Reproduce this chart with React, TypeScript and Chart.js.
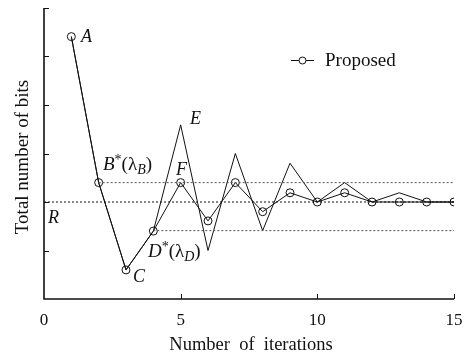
import React, { useEffect, useRef } from "react";
import { Chart, registerables } from "chart.js";

Chart.register(...registerables);

const iterations = [1, 2, 3, 4, 5, 6, 7, 8, 9, 10, 11, 12, 13, 14, 15];
const proposedBits = [5.41, 2.4, 0.6, 1.4, 2.4, 1.61, 2.4, 1.8, 2.19, 2.0, 2.19, 2.0, 2.0, 2.0, 2.0];
const comparedBits = [5.41, 2.4, 0.6, 1.4, 3.59, 1.0, 3.0, 1.41, 2.8, 2.0, 2.4, 2.0, 2.19, 2.0, 2.0];
const rateR = 2.0;
const levelB = 2.4;
const levelD = 1.41;
const xTickValues = [0, 5, 10, 15];
const xTickLabels = ["0", "5", "10", "15"];
const yTickValues = [1, 2, 3, 4, 5, 6];
const legendLabel = "Proposed";
const xTitle = "Number  of  iterations";
const yTitle = "Total number of bits";

const SERIF = '"Liberation Serif", "Times New Roman", serif';

const overlayPlugin = {
  id: "overlay",
  afterDraw(chart: any) {
    const ctx = chart.ctx as CanvasRenderingContext2D;
    const xs = chart.scales.x;
    const ys = chart.scales.y;
    const area = chart.chartArea;
    ctx.save();
    // axes
    ctx.strokeStyle = "#111";
    ctx.lineWidth = 1.6;
    ctx.beginPath();
    ctx.moveTo(area.left, area.top);
    ctx.lineTo(area.left, area.bottom);
    ctx.lineTo(area.right, area.bottom);
    ctx.stroke();
    ctx.lineWidth = 1;
    ctx.beginPath();
    for (const v of yTickValues) {
      const y = Math.round(ys.getPixelForValue(v)) + 0.5;
      ctx.moveTo(area.left, y);
      ctx.lineTo(area.left + 5, y);
    }
    for (const v of xTickValues.slice(1)) {
      const x = Math.round(xs.getPixelForValue(v)) + 0.5;
      ctx.moveTo(x, area.bottom);
      ctx.lineTo(x, area.bottom - 5);
    }
    ctx.stroke();

    // tick labels
    ctx.fillStyle = "#111";
    ctx.font = `17px ${SERIF}`;
    ctx.textAlign = "center";
    ctx.textBaseline = "alphabetic";
    xTickValues.forEach((v, i) => {
      ctx.fillText(xTickLabels[i], xs.getPixelForValue(v), 325);
    });
    // axis titles
    ctx.font = `18.5px ${SERIF}`;
    ctx.fillText(xTitle, 251, 350);
    ctx.save();
    ctx.translate(28, 157);
    ctx.rotate(-Math.PI / 2);
    ctx.font = `19px ${SERIF}`;
    ctx.fillText(yTitle, 0, 0);
    ctx.restore();

    // annotations
    ctx.textAlign = "left";
    const it = `italic 18px ${SERIF}`;
    const it2 = `italic 19px ${SERIF}`;
    const rg = `19px ${SERIF}`;
    const sm = `14px ${SERIF}`;
    const smi = `italic 14px ${SERIF}`;
    const parts = (x: number, y: number, segs: [string, string, number][]) => {
      let cx = x;
      for (const [t, f, dy] of segs) {
        ctx.font = f;
        ctx.fillText(t, cx, y + dy);
        cx += ctx.measureText(t).width;
      }
    };
    parts(81, 42, [["A", it, 0]]);
    parts(103, 170, [["B", it2, 0], ["*", sm, -6], ["(", rg, 0], ["λ", rg, 0], ["B", smi, 4], [")", rg, 0]]);
    parts(133, 282, [["C", it, 0]]);
    parts(148, 257, [["D", it2, 0], ["*", sm, -6], ["(", rg, 0], ["λ", rg, 0], ["D", smi, 4], [")", rg, 0]]);
    parts(190, 124, [["E", it, 0]]);
    parts(176, 175, [["F", it, 0]]);
    parts(48, 223, [["R", it, 0]]);

    // legend
    ctx.strokeStyle = "#111";
    ctx.lineWidth = 1;
    ctx.beginPath();
    ctx.moveTo(291, 60.5);
    ctx.lineTo(314, 60.5);
    ctx.stroke();
    ctx.beginPath();
    ctx.arc(302.5, 60.5, 3.5, 0, Math.PI * 2);
    ctx.fillStyle = "#fff";
    ctx.fill();
    ctx.stroke();
    ctx.fillStyle = "#111";
    ctx.font = `19px ${SERIF}`;
    ctx.fillText(legendLabel, 325, 66);
    ctx.restore();
  },
};

export default function App() {
  const ref = useRef<HTMLCanvasElement | null>(null);
  useEffect(() => {
    if (!ref.current) return;
    const chart = new Chart(ref.current, {
      type: "line",
      data: {
        datasets: [
          {
            label: "R",
            data: [{ x: 0, y: rateR }, { x: 15, y: rateR }],
            borderColor: "#111",
            borderWidth: 1,
            borderDash: [2, 2],
            pointRadius: 0,
          },
          {
            label: "B level",
            data: [{ x: 2, y: levelB }, { x: 15, y: levelB }],
            borderColor: "#555",
            borderWidth: 1,
            borderDash: [2, 2],
            pointRadius: 0,
          },
          {
            label: "D level",
            data: [{ x: 4, y: levelD }, { x: 15, y: levelD }],
            borderColor: "#555",
            borderWidth: 1,
            borderDash: [2, 2],
            pointRadius: 0,
          },
          {
            label: "Compared",
            data: iterations.map((x, i) => ({ x, y: comparedBits[i] })),
            borderColor: "#111",
            borderWidth: 1,
            pointRadius: 0,
            tension: 0,
          },
          {
            label: legendLabel,
            data: iterations.map((x, i) => ({ x, y: proposedBits[i] })),
            borderColor: "#111",
            borderWidth: 1,
            pointRadius: 4,
            pointStyle: "circle",
            pointBorderColor: "#111",
            pointBackgroundColor: "rgba(0,0,0,0)",
            pointBorderWidth: 1,
            tension: 0,
          },
        ],
      },
      options: {
        animation: false,
        responsive: false,
        maintainAspectRatio: false,
        events: [],
        layout: { padding: { left: 44, top: 8, right: 12, bottom: 57 } },
        plugins: { legend: { display: false }, tooltip: { enabled: false } },
        scales: {
          x: { type: "linear", min: 0, max: 15, display: false },
          y: { type: "linear", min: 0, max: 6, display: false },
        },
      },
      plugins: [overlayPlugin],
    });
    return () => chart.destroy();
  }, []);
  return (
    <div style={{ position: "fixed", left: 0, top: 0, width: 466, height: 356, background: "#fff" }}>
      <canvas ref={ref} width={466} height={356} style={{ width: 466, height: 356, display: "block" }} />
    </div>
  );
}
